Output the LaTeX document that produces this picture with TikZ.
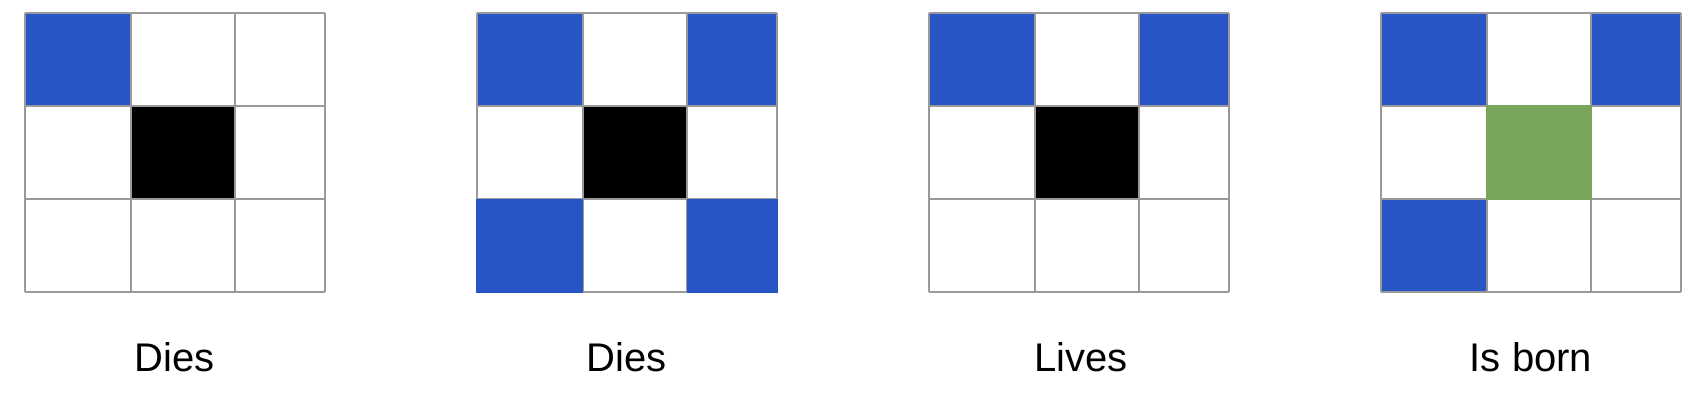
\documentclass[tikz,border=0pt]{standalone}
\usepackage{fontspec}
\setmainfont{Liberation Sans}
\definecolor{cblue}{HTML}{2855C5}
\definecolor{cgreen}{HTML}{78A55A}
\definecolor{cgrid}{HTML}{9A9A9A}
\tikzset{
  gridline/.style={draw=cgrid, line width=2pt},
  lbl/.style={anchor=base, font=\fontsize{40}{48}\selectfont, inner sep=0pt},
}
\newcommand{\mygrid}[1]{%
  \pgfmathsetmacro{\ga}{#1}\pgfmathsetmacro{\gb}{#1+106}\pgfmathsetmacro{\gc}{#1+210}\pgfmathsetmacro{\gd}{#1+300}%
  \foreach \yy in {13,106,199,292} {\draw[gridline] (\ga,\yy) -- (\gd,\yy);}
  \foreach \xx in {\ga,\gb,\gc,\gd} {\draw[gridline] (\xx,13) -- (\xx,292);}
}
\begin{document}
\begin{tikzpicture}[x=1pt,y=-1pt]
\useasboundingbox (0,0) rectangle (1694,408);
% grid 1
\fill[cblue] (25,13) rectangle (131,106);
\fill[black] (131,106) rectangle (235,199);
\mygrid{25}
% grid 2
\fill[cblue] (477,13) rectangle (583,106);
\fill[cblue] (687,13) rectangle (777,106);
\fill[black] (583,106) rectangle (687,199);
\mygrid{477}
\fill[cblue] (476,199) rectangle (583,293);
\fill[cblue] (687,199) rectangle (778,293);
% grid 3
\fill[cblue] (929,13) rectangle (1035,106);
\fill[cblue] (1139,13) rectangle (1229,106);
\fill[black] (1035,106) rectangle (1139,199);
\mygrid{929}
% grid 4
\fill[cblue] (1381,13) rectangle (1486,106);
\fill[cblue] (1591,13) rectangle (1681,106);
\fill[cblue] (1381,199) rectangle (1486,292);
\mygrid{1381}
\fill[cgreen] (1486,105) rectangle (1592,200);
% labels
\node[lbl] (l1) at (175,371) {Dies};
\node[lbl] (l2) at (627,371) {Dies};
\node[lbl] (l3) at (1081,371) {Lives};
\node[lbl] (l4) at (1531,371) {Is born};
\end{tikzpicture}
\end{document}
